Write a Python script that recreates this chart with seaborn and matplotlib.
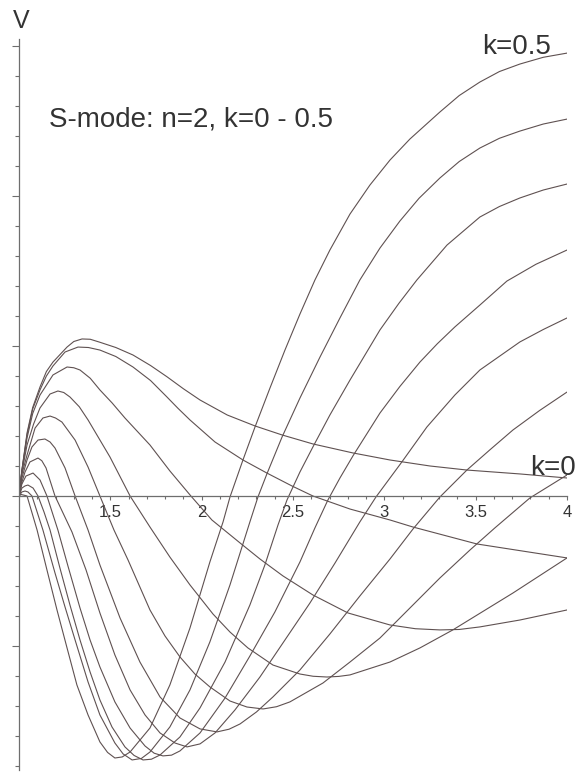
import numpy as np
import pandas as pd
import matplotlib
matplotlib.use("Agg")
import matplotlib.pyplot as plt
from matplotlib.ticker import FixedLocator, NullFormatter
import seaborn as sns

# ---------------- data ----------------
k_values = [0.0, 0.05, 0.1, 0.15, 0.2, 0.25, 0.3, 0.35, 0.4, 0.45, 0.5]

x0 = [1.000, 1.016, 1.044, 1.075, 1.115, 1.150, 1.186, 1.263, 1.300, 1.345, 1.390, 1.443, 1.530, 1.624, 1.720, 1.810, 1.900, 1.991, 2.140, 2.292, 2.440, 2.609, 2.828, 3.031, 3.250, 3.452, 3.742, 4.000]
v0 = [0.000, 0.173, 0.420, 0.590, 0.727, 0.830, 0.893, 0.993, 1.030, 1.047, 1.045, 1.025, 0.990, 0.940, 0.870, 0.795, 0.715, 0.640, 0.540, 0.467, 0.407, 0.347, 0.287, 0.240, 0.200, 0.173, 0.147, 0.120]

x1 = [1.000, 1.016, 1.044, 1.075, 1.115, 1.150, 1.186, 1.252, 1.323, 1.380, 1.443, 1.530, 1.624, 1.720, 1.810, 1.870, 1.936, 2.073, 2.226, 2.357, 2.494, 2.609, 2.812, 3.031, 3.157, 3.507, 4.000]
v1 = [0.000, 0.173, 0.407, 0.580, 0.707, 0.800, 0.867, 0.960, 0.993, 0.990, 0.973, 0.930, 0.860, 0.770, 0.660, 0.585, 0.507, 0.360, 0.240, 0.153, 0.067, 0.000, -0.087, -0.160, -0.207, -0.320, -0.413]

x2 = [1.000, 1.016, 1.044, 1.075, 1.115, 1.186, 1.263, 1.300, 1.334, 1.390, 1.443, 1.510, 1.580, 1.717, 1.826, 1.941, 2.056, 2.210, 2.319, 2.445, 2.609, 2.801, 3.031, 3.170, 3.304, 3.410, 3.523, 3.742, 4.000]
v2 = [0.000, 0.167, 0.387, 0.550, 0.673, 0.807, 0.860, 0.855, 0.840, 0.785, 0.707, 0.620, 0.520, 0.340, 0.167, 0.000, -0.160, -0.313, -0.420, -0.533, -0.660, -0.780, -0.860, -0.885, -0.893, -0.890, -0.873, -0.827, -0.760]

x3 = [1.000, 1.016, 1.044, 1.080, 1.115, 1.170, 1.213, 1.245, 1.279, 1.330, 1.378, 1.498, 1.608, 1.717, 1.826, 1.936, 2.062, 2.155, 2.253, 2.390, 2.538, 2.610, 2.686, 2.750, 2.812, 3.031, 3.195, 3.375, 3.704, 4.000]
v3 = [0.000, 0.160, 0.340, 0.480, 0.587, 0.680, 0.700, 0.690, 0.660, 0.595, 0.507, 0.260, 0.000, -0.207, -0.407, -0.593, -0.787, -0.907, -1.013, -1.127, -1.187, -1.202, -1.207, -1.203, -1.193, -1.107, -1.013, -0.893, -0.647, -0.413]

x4 = [1.000, 1.016, 1.044, 1.088, 1.131, 1.170, 1.200, 1.235, 1.307, 1.378, 1.443, 1.520, 1.597, 1.717, 1.799, 1.881, 1.963, 2.045, 2.155, 2.248, 2.336, 2.410, 2.483, 2.664, 2.812, 2.976, 3.140, 3.304, 3.469, 3.605, 3.797, 4.000]
v4 = [0.000, 0.147, 0.273, 0.453, 0.520, 0.533, 0.520, 0.493, 0.373, 0.193, 0.000, -0.227, -0.427, -0.760, -0.933, -1.073, -1.187, -1.273, -1.367, -1.407, -1.420, -1.405, -1.373, -1.247, -1.107, -0.947, -0.747, -0.547, -0.360, -0.213, -0.013, 0.140]

x5 = [1.000, 1.016, 1.044, 1.071, 1.104, 1.142, 1.170, 1.197, 1.252, 1.307, 1.378, 1.443, 1.553, 1.662, 1.772, 1.881, 1.991, 2.084, 2.150, 2.210, 2.300, 2.390, 2.538, 2.702, 2.866, 3.031, 3.157, 3.304, 3.452, 3.580, 3.704, 3.850, 4.000]
v5 = [0.000, 0.120, 0.240, 0.327, 0.373, 0.380, 0.360, 0.320, 0.187, 0.000, -0.227, -0.460, -0.813, -1.107, -1.340, -1.480, -1.553, -1.573, -1.555, -1.520, -1.440, -1.340, -1.160, -0.920, -0.667, -0.420, -0.220, -0.007, 0.173, 0.310, 0.440, 0.570, 0.693]

x6 = [1.000, 1.016, 1.033, 1.060, 1.104, 1.125, 1.148, 1.197, 1.290, 1.367, 1.443, 1.525, 1.608, 1.690, 1.772, 1.854, 1.920, 1.991, 2.073, 2.182, 2.319, 2.456, 2.593, 2.730, 2.866, 2.954, 3.096, 3.233, 3.386, 3.523, 3.742, 3.870, 4.000]
v6 = [0.000, 0.093, 0.160, 0.227, 0.253, 0.235, 0.187, 0.000, -0.240, -0.493, -0.780, -1.060, -1.293, -1.460, -1.580, -1.647, -1.673, -1.653, -1.580, -1.427, -1.207, -0.960, -0.713, -0.447, -0.173, -0.007, 0.227, 0.460, 0.673, 0.840, 1.027, 1.110, 1.187]

x7 = [1.000, 1.016, 1.038, 1.077, 1.115, 1.153, 1.213, 1.268, 1.334, 1.389, 1.443, 1.525, 1.608, 1.690, 1.740, 1.788, 1.835, 1.881, 1.991, 2.128, 2.264, 2.401, 2.538, 2.620, 2.691, 2.757, 2.828, 2.976, 3.085, 3.195, 3.290, 3.386, 3.523, 3.671, 3.830, 4.000]
v7 = [0.000, 0.080, 0.133, 0.153, 0.107, 0.000, -0.227, -0.467, -0.747, -0.960, -1.140, -1.373, -1.547, -1.667, -1.715, -1.733, -1.728, -1.700, -1.580, -1.347, -1.067, -0.773, -0.440, -0.213, -0.027, 0.120, 0.267, 0.553, 0.730, 0.893, 1.015, 1.127, 1.273, 1.433, 1.545, 1.640]

x8 = [1.000, 1.016, 1.033, 1.049, 1.077, 1.104, 1.137, 1.170, 1.224, 1.279, 1.334, 1.389, 1.443, 1.509, 1.580, 1.630, 1.679, 1.725, 1.772, 1.881, 1.991, 2.128, 2.264, 2.346, 2.418, 2.467, 2.538, 2.609, 2.702, 2.812, 2.976, 3.080, 3.178, 3.343, 3.523, 3.630, 3.742, 3.870, 4.000]
v8 = [0.000, 0.053, 0.067, 0.073, 0.053, 0.000, -0.107, -0.227, -0.480, -0.727, -0.960, -1.173, -1.360, -1.540, -1.673, -1.730, -1.760, -1.755, -1.727, -1.607, -1.413, -1.107, -0.727, -0.460, -0.193, -0.027, 0.160, 0.327, 0.540, 0.773, 1.107, 1.285, 1.440, 1.673, 1.860, 1.930, 1.987, 2.040, 2.080]

x9 = [1.000, 1.016, 1.033, 1.049, 1.071, 1.131, 1.197, 1.252, 1.307, 1.378, 1.443, 1.525, 1.570, 1.619, 1.670, 1.717, 1.826, 1.936, 2.045, 2.155, 2.264, 2.308, 2.357, 2.440, 2.538, 2.648, 2.757, 2.866, 2.976, 3.085, 3.190, 3.304, 3.410, 3.523, 3.630, 3.742, 3.870, 4.000]
v9 = [0.000, 0.027, 0.033, 0.027, 0.000, -0.227, -0.513, -0.740, -0.960, -1.240, -1.460, -1.647, -1.720, -1.760, -1.750, -1.707, -1.540, -1.293, -0.973, -0.593, -0.173, -0.007, 0.147, 0.393, 0.653, 0.927, 1.187, 1.440, 1.653, 1.833, 1.985, 2.120, 2.230, 2.320, 2.385, 2.433, 2.480, 2.513]

x10 = [1.000, 1.011, 1.022, 1.044, 1.099, 1.153, 1.208, 1.263, 1.317, 1.378, 1.443, 1.485, 1.525, 1.565, 1.608, 1.717, 1.826, 1.936, 2.045, 2.117, 2.155, 2.226, 2.292, 2.374, 2.456, 2.538, 2.620, 2.702, 2.812, 2.921, 3.031, 3.140, 3.304, 3.410, 3.523, 3.630, 3.742, 3.870, 4.000]
v10 = [0.000, 0.010, 0.007, 0.000, -0.227, -0.493, -0.760, -1.013, -1.260, -1.460, -1.640, -1.710, -1.747, -1.740, -1.707, -1.547, -1.260, -0.880, -0.440, -0.173, -0.007, 0.240, 0.460, 0.720, 0.973, 1.213, 1.440, 1.640, 1.880, 2.073, 2.240, 2.380, 2.560, 2.670, 2.760, 2.830, 2.880, 2.925, 2.953]

x_tick_values = [1.5, 2.0, 2.5, 3.0, 3.5, 4.0]
x_tick_labels = ["1.5", "2", "2.5", "3", "3.5", "4"]
title_text = "S-mode: n=2, k=0 - 0.5"
y_label_text = "V"
label_top = "k=0.5"
label_bottom = "k=0"

# ---------------- build table ----------------
xs_all = [x0, x1, x2, x3, x4, x5, x6, x7, x8, x9, x10]
vs_all = [v0, v1, v2, v3, v4, v5, v6, v7, v8, v9, v10]
frames = []
for k, xs, vs in zip(k_values, xs_all, vs_all):
    frames.append(pd.DataFrame({"x": xs, "V": vs, "k": f"k={k:g}"}))
df = pd.concat(frames, ignore_index=True)

# ---------------- style ----------------
sns.set_theme(style="white")
plt.rcParams["font.family"] = ["Liberation Sans", "DejaVu Sans"]
plt.rcParams["lines.solid_joinstyle"] = "round"

line_color = "#5f5151"
axis_color = "#6e6e6e"
text_color = "#333333"

W, H = 577, 773
fig = plt.figure(figsize=(W / 100, H / 100), dpi=100)
fig.patch.set_facecolor("white")
ax = fig.add_axes([19 / W, 3 / H, 548 / W, 731 / H])
ax.set_facecolor("white")

sns.lineplot(data=df, x="x", y="V", hue="k", estimator=None, errorbar=None,
             palette=[line_color] * len(k_values), legend=False,
             linewidth=0.8, sort=False, ax=ax)

ax.set_xlim(1.0, 4.0)
ax.set_ylim(-1.827, 3.047)
ax.set_xlabel("")
ax.set_ylabel("")

for side in ["top", "right"]:
    ax.spines[side].set_visible(False)
ax.spines["bottom"].set_position(("data", 0.0))
ax.spines["left"].set_position(("data", 1.0))
for side in ["bottom", "left"]:
    ax.spines[side].set_color(axis_color)
    ax.spines[side].set_linewidth(0.9)

ax.xaxis.set_major_locator(FixedLocator(x_tick_values))
ax.set_xticklabels(x_tick_labels)
minor_x = [round(1.0 + 0.1 * i, 2) for i in range(1, 30)]
ax.xaxis.set_minor_locator(FixedLocator(minor_x))
ax.yaxis.set_major_locator(FixedLocator([-1, 0, 1, 2, 3]))
minor_y = [round(-1.8 + 0.2 * i, 2) for i in range(0, 25)]
ax.yaxis.set_minor_locator(FixedLocator(minor_y))
ax.yaxis.set_major_formatter(NullFormatter())
ax.yaxis.set_minor_formatter(NullFormatter())

ax.tick_params(axis="x", which="both", bottom=True, top=False, direction="out",
               color=axis_color, width=0.8)
ax.tick_params(axis="x", which="major", length=3.2, labelsize=12,
               labelcolor=text_color, pad=3.5)
ax.tick_params(axis="x", which="minor", length=2.4)
ax.tick_params(axis="y", which="both", left=True, right=False, direction="out",
               color=axis_color, width=0.8)
ax.tick_params(axis="y", which="major", length=5.0)
ax.tick_params(axis="y", which="minor", length=3.0)

fig.text(13 / W, 1 - 28 / H, y_label_text, fontsize=18, color=text_color,
         ha="left", va="baseline")
fig.text(49 / W, 1 - 127 / H, title_text, fontsize=20, color=text_color,
         ha="left", va="baseline")
fig.text(482 / W, 1 - 54 / H, label_top, fontsize=20, color=text_color,
         ha="left", va="baseline")
fig.text(530 / W, 1 - 475 / H, label_bottom, fontsize=20, color=text_color,
         ha="left", va="baseline")

fig.savefig("out.png", dpi=100, facecolor="white")
